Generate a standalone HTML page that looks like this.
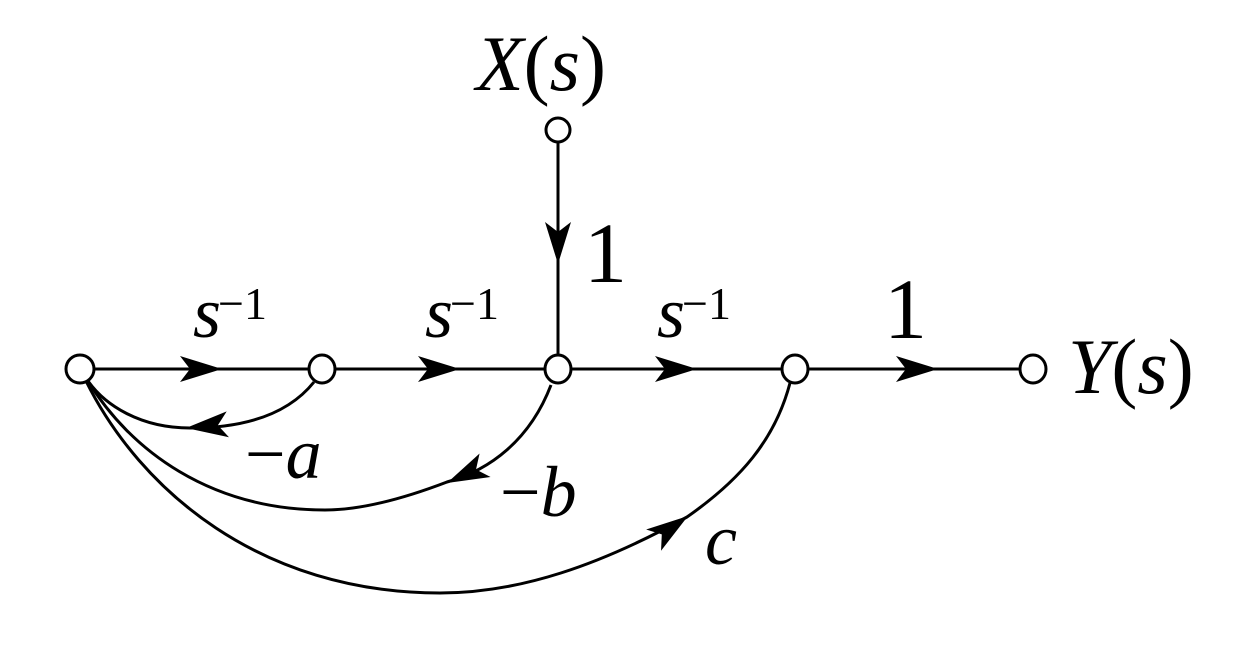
<!DOCTYPE html>
<html><head><meta charset="utf-8"><style>
html,body{margin:0;padding:0;background:#fff;}
svg{display:block;}
text{font-family:"Liberation Serif","DejaVu Serif","Times New Roman",serif;fill:#000;}
.i{font-style:italic;}
</style></head><body>
<svg width="1235" height="647" viewBox="0 0 1235 647" xmlns="http://www.w3.org/2000/svg" font-family="Liberation Serif, DejaVu Serif, serif">
<g stroke="#000" stroke-width="3" fill="none">
<line x1="94" y1="369" x2="308" y2="369"/>
<line x1="336" y1="369" x2="544" y2="369"/>
<line x1="572" y1="369" x2="781" y2="369"/>
<line x1="809" y1="369" x2="1020" y2="369"/>
<line x1="558" y1="143" x2="558" y2="355"/>
<path d="M314,382 C290,412 250,428 190,428 C140,428 105,405 88,381"/>
<path d="M551,385 C530,440 490,470 447,482 C400,500 360,510 325,510 C210,510 130,450 88,381"/>
<path d="M790,383 C775,440 740,480 687,517 C600,565 520,593 440,593 C260,593 140,490 86,381"/>
<ellipse cx="80" cy="369" rx="14" ry="14" fill="#fff"/>
<ellipse cx="322" cy="369" rx="13" ry="14" fill="#fff"/>
<ellipse cx="558" cy="369" rx="13" ry="14" fill="#fff"/>
<ellipse cx="795" cy="369" rx="13" ry="14" fill="#fff"/>
<ellipse cx="1033" cy="369" rx="13" ry="14" fill="#fff"/>
<ellipse cx="558" cy="130" rx="12" ry="12" fill="#fff"/>
</g>
<g fill="#000">
<path transform="translate(222,369)" d="M0,0 L-42,-13 L-32,0 L-42,13 Z"/>
<path transform="translate(460,369)" d="M0,0 L-42,-13 L-32,0 L-42,13 Z"/>
<path transform="translate(697,369)" d="M0,0 L-42,-13 L-32,0 L-42,13 Z"/>
<path transform="translate(938,369)" d="M0,0 L-42,-13 L-32,0 L-42,13 Z"/>
<path transform="translate(558,264) rotate(90)" d="M0,0 L-42,-13 L-32,0 L-42,13 Z"/>
<path transform="translate(186,428) rotate(175)" d="M0,0 L-42,-13 L-32,0 L-42,13 Z"/>
<path transform="translate(447,483) rotate(155)" d="M0,0 L-42,-13 L-32,0 L-42,13 Z"/>
<path transform="translate(688,516) rotate(-35)" d="M0,0 L-42,-13 L-32,0 L-42,13 Z"/>
</g>
<text x="476" y="90" font-size="78"><tspan class="i" font-style="italic">X</tspan>(<tspan class="i" font-style="italic">s</tspan>)</text>
<text x="1068" y="393" font-size="78"><tspan class="i" font-style="italic">Y</tspan>(<tspan class="i" font-style="italic">s</tspan>)</text>
<text x="584" y="282" font-size="86">1</text>
<text x="884" y="338" font-size="86">1</text>
<text x="193" y="337" font-size="72" class="i" font-style="italic">s</text><text x="218" y="319" font-size="46">−1</text>
<text x="425" y="337" font-size="72" class="i" font-style="italic">s</text><text x="450" y="319" font-size="46">−1</text>
<text x="657" y="337" font-size="72" class="i" font-style="italic">s</text><text x="682" y="319" font-size="46">−1</text>
<text x="245" y="478" font-size="72">−<tspan class="i" font-style="italic">a</tspan></text>
<text x="500" y="516" font-size="72">−<tspan class="i" font-style="italic">b</tspan></text>
<text x="705" y="564" font-size="72" class="i" font-style="italic">c</text>
</svg>
</body></html>
